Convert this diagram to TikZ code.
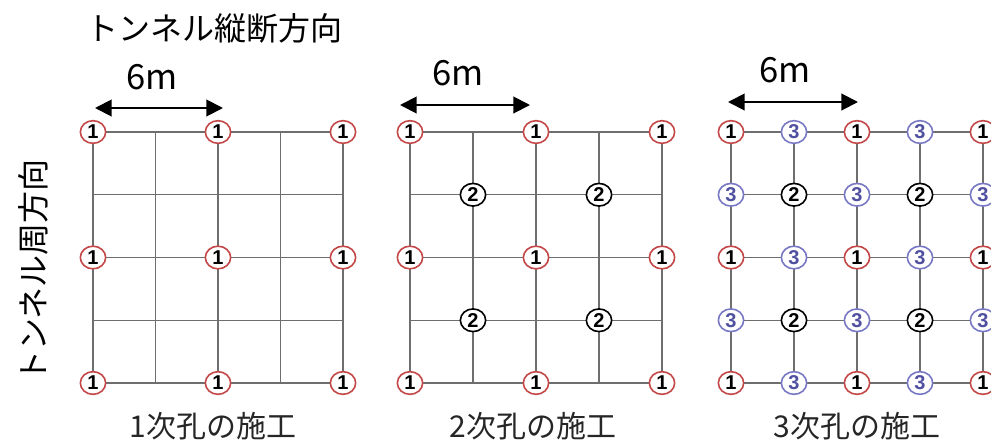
\documentclass[tikz,border=0pt]{standalone}
\usepackage{fontspec}
\setmainfont{Noto Sans CJK JP}
\newfontfamily\digitfont{Liberation Sans}
\usetikzlibrary{arrows.meta,shapes.geometric}
\definecolor{redc}{RGB}{196,72,72}
\definecolor{bluec}{RGB}{120,120,196}
\definecolor{bluet}{RGB}{80,80,160}
\definecolor{gridc}{RGB}{110,110,110}
\begin{document}
\begin{tikzpicture}[x=0.75pt,y=-0.75pt,
  gridline/.style={draw=gridc,line width=0.9pt},
  hole/.style={ellipse,fill=white,line width=1.2pt,minimum width=19pt,minimum height=17pt,inner sep=0pt,font=\digitfont\bfseries\fontsize{15}{15}\selectfont},
  holeA/.style={hole,draw=redc,text=black},
  holeB/.style={hole,draw=black,text=black},
  holeC/.style={hole,draw=bluec,text=bluet},
  bigtext/.style={font=\fontsize{24}{28}\selectfont},
  dimtext/.style={font=\fontsize{26}{30}\selectfont},
  caption/.style={font=\fontsize{22.5}{26}\selectfont,text=black!85},
  dim/.style={{Triangle[length=12.5pt,width=12.5pt]}-{Triangle[length=12.5pt,width=12.5pt]},line width=1.5pt}]
\useasboundingbox (0,0) rectangle (991,440);
\clip (0,0) rectangle (991,440);
% grid coordinates
\foreach \i in {0,...,4}{
  \foreach \j in {0,...,4}{
    \coordinate (A-\i-\j) at ({93+62.5*\i},{132+62.75*\j});
    \coordinate (B-\i-\j) at ({410+63*\i},{132+62.75*\j});
    \coordinate (C-\i-\j) at ({731+63*\i},{132+62.75*\j});
  }
}
% grid lines
\foreach \p in {A,B,C}{
  \foreach \k in {0,...,4}{
    \draw[gridline] (\p-0-\k) -- (\p-4-\k);
    \draw[gridline] (\p-\k-0) -- (\p-\k-4);
  }
}
% primary holes
\foreach \i in {0,2,4}{
  \foreach \j in {0,2,4}{
    \node[holeA] (a1-\i-\j) at (A-\i-\j) {1};
    \node[holeA] (a2-\i-\j) at (B-\i-\j) {1};
    \node[holeA] (a3-\i-\j) at (C-\i-\j) {1};
  }
}
% secondary holes
\foreach \i in {1,3}{
  \foreach \j in {1,3}{
    \node[holeB] (b2-\i-\j) at (B-\i-\j) {2};
    \node[holeB] (b3-\i-\j) at (C-\i-\j) {2};
  }
}
% tertiary holes
\foreach \i/\j in {1/0,3/0,0/1,2/1,4/1,1/2,3/2,0/3,2/3,4/3,1/4,3/4}{
  \node[holeC] (c3-\i-\j) at (C-\i-\j) {3};
}
% dimension arrows
\coordinate (d1l) at (95,108); \coordinate (d1r) at (223,108);
\coordinate (d2l) at (400,105); \coordinate (d2r) at (530,105);
\coordinate (d3l) at (728,102); \coordinate (d3r) at (858,102);
\draw[dim] (d1l) -- (d1r);
\draw[dim] (d2l) -- (d2r);
\draw[dim] (d3l) -- (d3r);
\node[dimtext] (m1) at (152,77) {6m};
\node[dimtext] (m2) at (458,73) {6m};
\node[dimtext] (m3) at (785,70) {6m};
% titles
\node[bigtext,anchor=west] (title) at (82,28) {トンネル縦断方向};
\node[bigtext,rotate=90] (side) at (33,271) {トンネル周方向};
\node[caption] (cap1) at (213,426) {1次孔の施工};
\node[caption] (cap2) at (533,426) {2次孔の施工};
\node[caption] (cap3) at (857,426) {3次孔の施工};
\end{tikzpicture}
\end{document}
